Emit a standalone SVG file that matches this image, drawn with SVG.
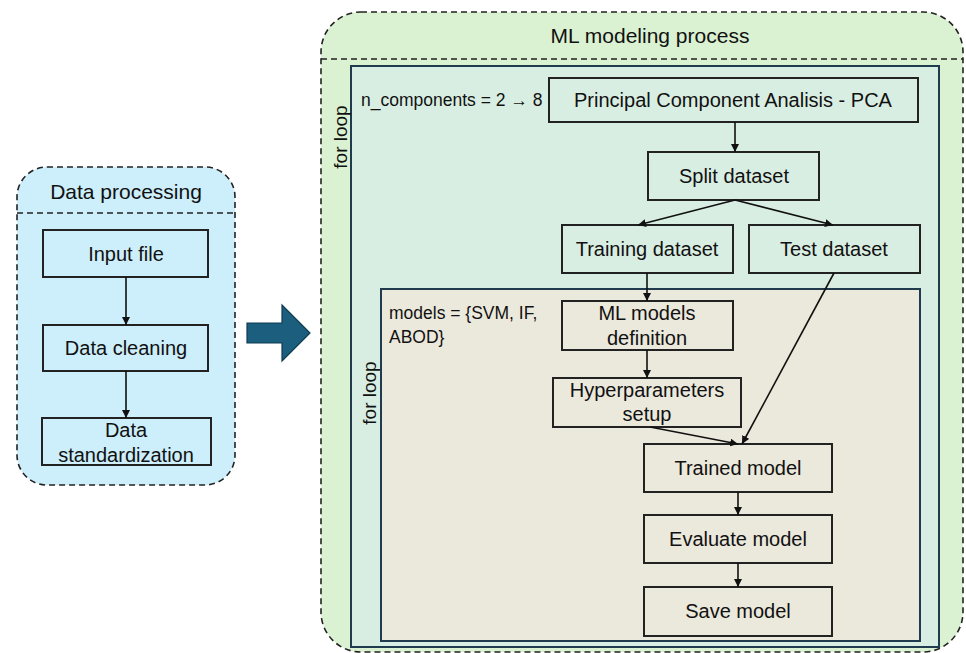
<svg xmlns="http://www.w3.org/2000/svg" width="966" height="653" viewBox="0 0 966 653">
<defs>
<marker id="ah" viewBox="0 0 8 8" refX="8" refY="4" markerWidth="8" markerHeight="8" markerUnits="userSpaceOnUse" orient="auto">
<path d="M0,0 L8,4 L0,8 z" fill="#111"/>
</marker>
<style>
text{font-family:"Liberation Sans","Noto Sans",Arial,sans-serif;fill:#111;}
.lbl{font-size:20px;text-anchor:middle;}
.ttl{font-size:21px;text-anchor:middle;}
.loopt{font-size:19px;text-anchor:middle;}
.note{font-size:17.5px;}
.box{fill:none;stroke:#222;stroke-width:2;}
.dash{stroke:#222;stroke-width:1.6;stroke-dasharray:6 4;}
.loop{stroke:#1f3b4d;stroke-width:2;}
.conn line{stroke:#111;stroke-width:1.6;marker-end:url(#ah);}
</style>
</defs>
<rect width="966" height="653" fill="#ffffff"/>

<g id="data-processing">
<rect x="17" y="167" width="218" height="318" rx="30" ry="30" fill="#cdeefb" class="dash"/>
<line x1="17" y1="213" x2="235" y2="213" class="dash"/>
<text x="126" y="199" class="ttl">Data processing</text>
</g>

<g id="big-arrow">
<polygon points="247,323 282,323 282,305 310,333 282,361 282,343 247,343" fill="#1b5e7e" stroke="#0f3c50" stroke-width="1.2"/>
</g>

<g id="ml-modeling">
<rect x="321" y="12" width="642" height="640" rx="40" ry="40" fill="#daf2d2" class="dash"/>
<line x1="321" y1="59" x2="963" y2="59" class="dash"/>
<text x="650" y="43" class="ttl">ML modeling process</text>
</g>

<g id="outer-loop">
<rect x="351" y="66" width="588" height="581" fill="#d9eee2" class="loop"/>
<text transform="translate(347,137) rotate(-90)" class="loopt">for loop</text>
<text x="361" y="106" class="note">n_components = 2 → 8</text>
</g>

<g id="inner-loop">
<rect x="381" y="289" width="539" height="352" fill="#ebe8dc" class="loop"/>
<text transform="translate(376,393) rotate(-90)" class="loopt">for loop</text>
<text x="389" y="319" class="note">models = {SVM, IF,</text>
<text x="389" y="343" class="note">ABOD}</text>
</g>

<g id="input-file"><rect x="43" y="230" width="165" height="47" class="box"/><text x="126" y="261" class="lbl">Input file</text></g>
<g id="data-cleaning"><rect x="43" y="325" width="165" height="46" class="box"/><text x="126" y="355" class="lbl">Data cleaning</text></g>
<g id="data-standardization"><rect x="42" y="418" width="169" height="47" class="box"/><text x="126" y="437" class="lbl">Data</text><text x="126" y="462" class="lbl">standardization</text></g>

<g id="pca"><rect x="549" y="78" width="369" height="44" class="box"/><text x="733" y="107" class="lbl">Principal Component Analisis - PCA</text></g>
<g id="split"><rect x="648" y="152" width="171" height="48" class="box"/><text x="734" y="183" class="lbl">Split dataset</text></g>
<g id="training"><rect x="562" y="225" width="171" height="48" class="box"/><text x="647" y="256" class="lbl">Training dataset</text></g>
<g id="test"><rect x="749" y="225" width="171" height="48" class="box"/><text x="834" y="256" class="lbl">Test dataset</text></g>
<g id="ml-models"><rect x="562" y="301" width="171" height="49" class="box"/><text x="647" y="320" class="lbl">ML models</text><text x="647" y="345" class="lbl">definition</text></g>
<g id="hyper"><rect x="553" y="378" width="188" height="49" class="box"/><text x="647" y="397" class="lbl">Hyperparameters</text><text x="647" y="421" class="lbl">setup</text></g>
<g id="trained"><rect x="644" y="444" width="188" height="48" class="box"/><text x="738" y="475" class="lbl">Trained model</text></g>
<g id="evaluate"><rect x="644" y="515" width="188" height="48" class="box"/><text x="738" y="546" class="lbl">Evaluate model</text></g>
<g id="save"><rect x="644" y="587" width="188" height="49" class="box"/><text x="738" y="618" class="lbl">Save model</text></g>

<g id="connectors" class="conn">
<line x1="126" y1="277" x2="126" y2="325"/>
<line x1="126" y1="371" x2="126" y2="418"/>
<line x1="735" y1="122" x2="735" y2="152"/>
<line x1="735" y1="200" x2="638" y2="225"/>
<line x1="735" y1="200" x2="833" y2="225"/>
<line x1="647" y1="273" x2="647" y2="301"/>
<line x1="647" y1="350" x2="647" y2="378"/>
<line x1="650" y1="427" x2="738" y2="444"/>
<line x1="834" y1="273" x2="742" y2="444"/>
<line x1="738" y1="492" x2="738" y2="515"/>
<line x1="738" y1="563" x2="738" y2="587"/>
</g>
</svg>
